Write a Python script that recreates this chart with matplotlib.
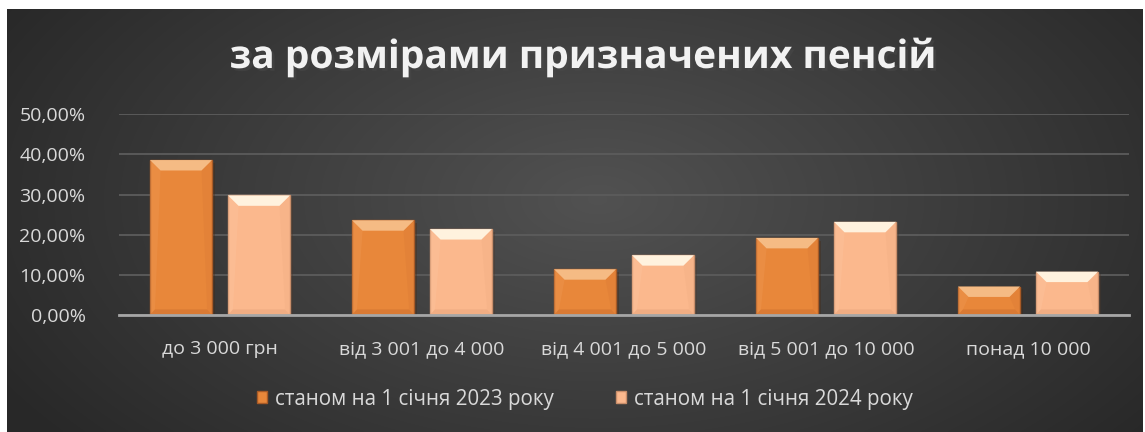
import numpy as np
import matplotlib.pyplot as plt
import matplotlib.patheffects as pe
from matplotlib.patches import Polygon, Rectangle

# ==============================================================================
# DATA
# ==============================================================================
categories = ['до 3 000 грн', 'від 3 001 до 4 000', 'від 4 001 до 5 000',
              'від 5 001 до 10 000', 'понад 10 000']
series_names = ['станом на 1 січня 2023 року', 'станом на 1 січня 2024 року']
values_2023 = [0.386, 0.236, 0.114, 0.192, 0.071]
values_2024 = [0.298, 0.214, 0.149, 0.232, 0.108]
y_ticks = [0.0, 0.1, 0.2, 0.3, 0.4, 0.5]
title = 'за розмірами призначених пенсій'

FONT = ['Open Sans', 'DejaVu Sans']
TEXT_COLOR = '#d9d9d9'
body_colors = ['#e8873a', '#fbb88d']
edge_colors = ['#a85a26', '#c98e6a']
top_colors = ['#f5bb84', '#fff2de']
side_colors = ['#ee9a56', '#fdc6a0']
bottom_colors = ['#cf7230', '#eaa77d']

plt.rcParams['font.family'] = FONT

W, H = 1145, 432
fig = plt.figure(figsize=(W / 100, H / 100), dpi=100)
fig.patch.set_facecolor('white')

# ------------------------------------------------------------------------------
# background with radial gradient
# ------------------------------------------------------------------------------
bg = fig.add_axes([7 / W, 0, (W - 9) / W, (H - 9) / H], zorder=-10)
yy, xx = np.mgrid[0:1:200j, 0:1:500j]
r = np.sqrt(((xx - 0.52) / 0.6) ** 2 + ((yy - 0.45) / 0.9) ** 2)
shade = np.clip(0.32 - 0.16 * r, 0.16, 0.32)
bg.imshow(np.dstack([shade] * 3), aspect='auto', extent=[0, 1, 0, 1],
          interpolation='bilinear')
bg.set_axis_off()

# ------------------------------------------------------------------------------
# main axes
# ------------------------------------------------------------------------------
ax = fig.add_axes([119 / W, 1 - 315 / H, 1010 / W, (315 - 114.3) / H])
ax.set_facecolor('none')

x = np.arange(len(categories))
width = 0.307
offset = 0.193


def bevel(bar, top_c, side_c, bot_c):
    """Bevel-like highlight on top, sides and shade at the bottom of a bar."""
    x0, w, h = bar.get_x(), bar.get_width(), bar.get_height()
    bx = w * 0.17
    by = 0.026
    bb = 0.014
    sx = w * 0.08
    # sides
    ax.add_patch(Polygon([(x0, 0), (x0, h), (x0 + bx, h - by), (x0 + sx, bb)],
                         closed=True, facecolor=side_c, edgecolor='none', alpha=0.35, zorder=4))
    ax.add_patch(Polygon([(x0 + w, 0), (x0 + w, h), (x0 + w - bx, h - by), (x0 + w - sx, bb)],
                         closed=True, facecolor=bot_c, edgecolor='none', alpha=0.2, zorder=4))
    # top
    ax.add_patch(Polygon([(x0, h), (x0 + w, h), (x0 + w - bx, h - by), (x0 + bx, h - by)],
                         closed=True, facecolor=top_c, edgecolor='none', zorder=4))
    # bottom
    ax.add_patch(Polygon([(x0, 0), (x0 + w, 0), (x0 + w - sx, bb), (x0 + sx, bb)],
                         closed=True, facecolor=bot_c, edgecolor='none', alpha=0.6, zorder=4))


for i, vals in enumerate([values_2023, values_2024]):
    pos = x - offset if i == 0 else x + offset
    bars = ax.bar(pos, vals, width=width, color=body_colors[i],
                  edgecolor=edge_colors[i], linewidth=1.0, zorder=3,
                  label=series_names[i])
    for b in bars:
        b.set_path_effects([pe.SimplePatchShadow(offset=(2, -2), alpha=0.35),
                            pe.Normal()])
        bevel(b, top_colors[i], side_colors[i], bottom_colors[i])

ax.set_xlim(-0.5, len(categories) - 0.5)
ax.set_ylim(0, 0.5)
ax.set_yticks(y_ticks)
ax.set_yticklabels([f'{v * 100:.2f}%'.replace('.', ',') for v in y_ticks])
ax.set_xticks(x)
ax.set_xticklabels(categories)
ax.tick_params(axis='both', length=0, colors=TEXT_COLOR, labelsize=14)
ax.tick_params(axis='y', pad=24)
ax.tick_params(axis='x', pad=18)
for lab in ax.get_xticklabels() + ax.get_yticklabels():
    lab.set_color(TEXT_COLOR)

ax.grid(axis='y', color='#5c5c5c', linewidth=1.3, zorder=0)
ax.set_axisbelow(True)
for s in ['top', 'right', 'left']:
    ax.spines[s].set_visible(False)
ax.spines['bottom'].set_color('#a6a6a6')
ax.spines['bottom'].set_linewidth(2)
ax.spines['bottom'].set_zorder(5)

# legend
handles = [Rectangle((0, 0), 1, 1, facecolor=body_colors[i], edgecolor=edge_colors[i])
           for i in range(2)]
leg = fig.legend(handles, series_names, loc='center', bbox_to_anchor=(585 / W, 1 - 399 / H),
                 ncol=2, frameon=False, fontsize=14.8, handlelength=0.5, handleheight=0.55,
                 handletextpad=0.4, columnspacing=3.0, labelcolor=TEXT_COLOR)

# title
fig.text(582 / W, 1 - 57 / H, title, ha='center', va='center', fontsize=28,
         fontweight='bold', color='#f2f2f2', family=FONT,
         path_effects=[pe.withSimplePatchShadow(offset=(2, -2), alpha=0.5)])

fig.savefig('out.png', dpi=100, facecolor=fig.get_facecolor())
